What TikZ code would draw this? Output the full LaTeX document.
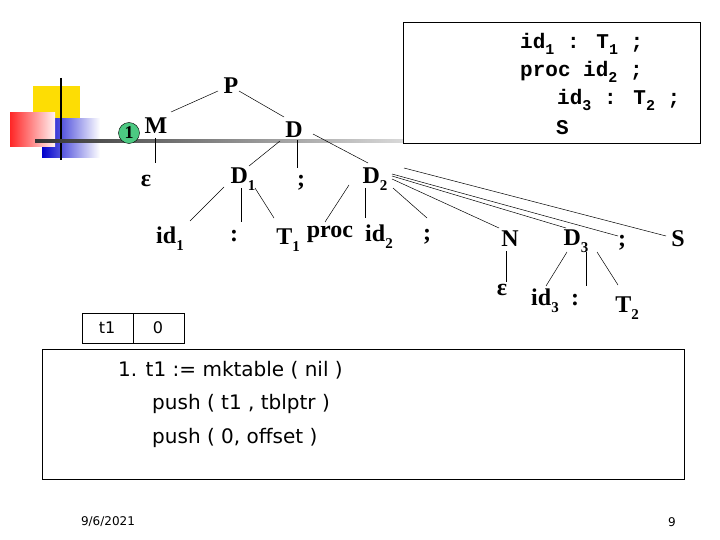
\documentclass[tikz,border=0pt]{standalone}
\usepackage{fontspec}
\setmainfont{Liberation Serif}
\newfontfamily\tah{DejaVu Sans}
\newfontfamily\cour{Liberation Mono}
\newcommand\mysub[1]{\raisebox{-0.3em}{\fontsize{15}{15}\selectfont #1}}
\begin{document}
\begin{tikzpicture}[x=1pt,y=-1pt,
  t/.style={font=\bfseries\fontsize{24}{26}\selectfont,inner sep=0pt},
  cd/.style={anchor=west,font=\cour\bfseries\fontsize{21}{23}\selectfont,inner sep=0pt},
  e/.style={black,line width=0.5pt}]
\useasboundingbox (0,0) rectangle (720,540);
% logo
\fill[yellow!80!orange] (33,86) rectangle (80,120);
\shade[left color=blue!80!black,right color=white] (42,119) rectangle (100,158);
\shade[left color=red!85,right color=red!5] (10,113) rectangle (55,147);
\draw[line width=2pt] (61,78) -- (61,160);
\shade[left color=black!80,right color=black!15] (35,139.5) rectangle (403,142.5);
% top right box
\draw[line width=0.8pt] (403,22) rectangle (700,143);
\node[cd] (l1) at (520,44) {id\mysub{1} : T\mysub{1} ;};
\node[cd] (l2) at (520,72) {proc  id\mysub{2} ;};
\node[cd] (l3) at (557,100) {id\mysub{3} : T\mysub{2} ;};
\node[cd] (l4) at (556,128) {S};
% tree
\node[t] (P) at (231,86) {P};
\node[t] (M) at (156,126) {M};
\node[circle,draw,fill=teal!60!green!70,inner sep=0.5pt,minimum size=21pt,font=\bfseries\fontsize{18}{18}\selectfont] (one) at (129,133) {1};
\node[t] (D) at (294,130) {D};
\node[t] (eps1) at (146,181) {ε};
\node[t] (D1) at (243,179) {D\mysub{1}};
\node[t] (semi1) at (301,183) {;};
\node[t] (D2) at (375,179) {D\mysub{2}};
\node[t] (id1) at (170,239) {id\mysub{1}};
\node[t] (col1) at (234,236) {:};
\node[t] (T1) at (288,240) {T\mysub{1}};
\node[t] (proc) at (330,234) {proc};
\node[t] (id2) at (379,237) {id\mysub{2}};
\node[t] (semi2) at (427,237) {;};
\node[t] (N) at (510,239) {N};
\node[t] (D3) at (576,241) {D\mysub{3}};
\node[t] (semi3) at (622,243) {;};
\node[t] (S) at (678,239) {S};
\node[t] (eps2) at (502,290) {ε};
\node[t] (id3) at (545,301) {id\mysub{3}};
\node[t] (col2) at (575,300) {:};
\node[t] (T2) at (627,308) {T\mysub{2}};
\draw[e] (218,91) -- (171,112);
\draw[e] (239,91) -- (284,117);
\draw[e] (155,138) -- (155,163);
\draw[e] (280,141) -- (249,166);
\draw[e] (297,140) -- (297,168);
\draw[e] (313,134) -- (368,163);
\draw[e] (224,187) -- (190,221);
\draw[e] (241,188) -- (241,222);
\draw[e] (255,188) -- (274,218);
\draw[e] (349,185) -- (325,222);
\draw[e] (365,188) -- (365,218);
\draw[e] (393,188) -- (427,218);
\draw[e] (392,179) -- (499,228);
\draw[e] (392,176) -- (566,228);
\draw[e] (392,174) -- (618,236);
\draw[e] (404,168) -- (666,236);
\draw[e] (506,251) -- (506,282);
\draw[e] (567,252) -- (546,286);
\draw[e] (586,252) -- (586,286);
\draw[e] (597,252) -- (618,285);
% t1 table
\draw (82,313) rectangle (133,343);
\draw (133,313) rectangle (184,343);
\node[font=\tah\fontsize{16}{16}\selectfont] (t1) at (107,328) {t1};
\node[font=\tah\fontsize{16}{16}\selectfont] (z) at (158,328) {0};
% code box
\draw (42,349) rectangle (684,479);
\node[anchor=west,font=\tah\fontsize{20}{22}\selectfont,inner sep=0pt] (c1) at (118,370) {1. t1 := mktable ( nil )};
\node[anchor=west,font=\tah\fontsize{20}{22}\selectfont,inner sep=0pt] (c2) at (152,404) {push ( t1 , tblptr )};
\node[anchor=west,font=\tah\fontsize{20}{22}\selectfont,inner sep=0pt] (c3) at (152,438) {push ( 0, offset )};
\node[font=\tah\fontsize{12}{12}\selectfont] (date) at (108,522) {9/6/2021};
\node[font=\tah\fontsize{12}{12}\selectfont] (pg) at (672,522) {9};
\end{tikzpicture}
\end{document}
